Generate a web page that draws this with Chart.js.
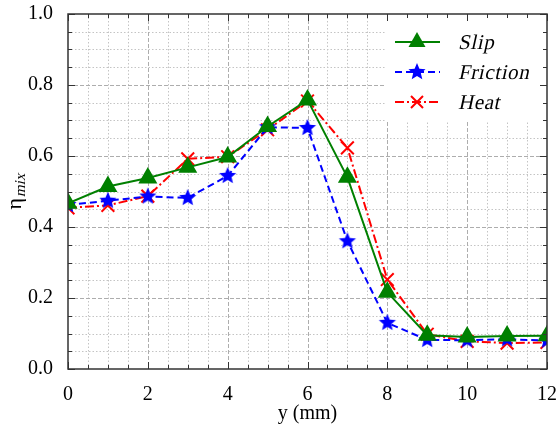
<!DOCTYPE html>
<html lang="en">
<head>
  <meta charset="UTF-8">
  <title>eta mix vs y</title>
  <script src="https://cdn.jsdelivr.net/npm/chart.js"></script>
  <style>
    body { margin: 0; background: #fff; font-family: 'Liberation Serif', 'Times New Roman', serif; }
    #wrap { width: 558px; height: 426px; }
    .pre { position: absolute; left: -999px; top: 0; font-family: 'Liberation Serif'; }
  </style>
</head>
<body>
  <span class="pre">0.8 <i>Slip</i></span>
  <div id="wrap"><canvas id="grafico" width="558" height="426"></canvas></div>

  <script>
    // data
    const posicoes = [0, 1, 2, 3, 4, 5, 6, 7, 8, 9, 10, 11, 12];
    const slip     = [0.467, 0.514, 0.538, 0.568, 0.597, 0.683, 0.758, 0.540, 0.216, 0.095, 0.090, 0.093, 0.094];
    const friction = [0.462, 0.474, 0.486, 0.482, 0.544, 0.681, 0.679, 0.360, 0.130, 0.082, 0.081, 0.084, 0.080];
    const heat     = [0.454, 0.461, 0.487, 0.592, 0.598, 0.674, 0.755, 0.623, 0.252, 0.098, 0.078, 0.073, 0.075];
    const xTicks = [0, 2, 4, 6, 8, 10, 12];
    const yTicks = [0, 0.2, 0.4, 0.6, 0.8, 1.0];
    const nomes = ['Slip', 'Friction', 'Heat'];

    const SERIF = "'Liberation Serif', 'Times New Roman', Times, serif";

    // filled star marker
    function fazerEstrela(r, cor) {
      const c = document.createElement('canvas');
      c.width = c.height = Math.ceil(r * 2 + 2);
      const g = c.getContext('2d');
      const cx = c.width / 2, cy = c.height / 2;
      g.beginPath();
      for (let i = 0; i < 10; i++) {
        const rr = i % 2 === 0 ? r : r * 0.45;
        const a = -Math.PI / 2 + i * Math.PI / 5;
        g.lineTo(cx + rr * Math.cos(a), cy + rr * Math.sin(a));
      }
      g.closePath();
      g.fillStyle = cor;
      g.fill();
      return c;
    }
    const estrela = fazerEstrela(9, '#0000ff');

    const pares = arr => posicoes.map((x, i) => ({ x: x, y: arr[i] }));

    // slanted text, one char at a time (regular face + skew stands in for italic)
    function textoInclinado(ctx, txt, x, y, espaco) {
      ctx.save();
      ctx.translate(x, y);
      ctx.transform(1, 0, -0.22, 1, 0, 0);
      let px = 0;
      for (const ch of txt) {
        ctx.fillText(ch, px, 0);
        px += ctx.measureText(ch).width + espaco;
      }
      ctx.restore();
    }

    // grid, ticks, frame, legend and y title
    const extras = {
      id: 'extras',
      beforeDatasetsDraw(chart) {
        const { ctx, chartArea: a, scales: { x, y } } = chart;
        ctx.save();
        ctx.lineWidth = 1;
        // minor dotted
        ctx.strokeStyle = '#c4c4c4';
        ctx.setLineDash([1.5, 2]);
        for (let v = 0.5; v < 12; v += 0.5) {
          if (v % 2 === 0) continue;
          const px = Math.round(x.getPixelForValue(v)) + 0.5;
          ctx.beginPath(); ctx.moveTo(px, a.top); ctx.lineTo(px, a.bottom); ctx.stroke();
        }
        for (let k = 1; k < 20; k++) {
          if (k % 4 === 0) continue;
          const py = Math.round(y.getPixelForValue(k * 0.05)) + 0.5;
          ctx.beginPath(); ctx.moveTo(a.left, py); ctx.lineTo(a.right, py); ctx.stroke();
        }
        // major dashed
        ctx.strokeStyle = '#adadad';
        ctx.setLineDash([4, 2]);
        xTicks.slice(1, -1).forEach(v => {
          const px = Math.round(x.getPixelForValue(v)) + 0.5;
          ctx.beginPath(); ctx.moveTo(px, a.top); ctx.lineTo(px, a.bottom); ctx.stroke();
        });
        yTicks.slice(1, -1).forEach(v => {
          const py = Math.round(y.getPixelForValue(v)) + 0.5;
          ctx.beginPath(); ctx.moveTo(a.left, py); ctx.lineTo(a.right, py); ctx.stroke();
        });
        ctx.setLineDash([]);
        // legend background hides grid
        ctx.fillStyle = '#fff';
        ctx.fillRect(386, a.top + 1, a.right - 387, 120 - a.top);
        ctx.restore();
      },
      afterDatasetsDraw(chart) {
        const { ctx, chartArea: a, scales: { x, y } } = chart;
        ctx.save();
        // legend
        const ds = chart.data.datasets;
        [42, 72, 102].forEach((ly, i) => {
          const d = ds[i];
          ctx.strokeStyle = d.borderColor;
          ctx.lineWidth = 2;
          ctx.setLineDash(d.borderDash || []);
          ctx.beginPath(); ctx.moveTo(395, ly); ctx.lineTo(440, ly); ctx.stroke();
          ctx.setLineDash([]);
          if (i === 0) {
            ctx.fillStyle = d.borderColor;
            ctx.beginPath();
            ctx.moveTo(417, ly - 10); ctx.lineTo(417 + 8.5, ly + 5); ctx.lineTo(417 - 8.5, ly + 5);
            ctx.closePath(); ctx.fill();
          } else if (i === 1) {
            ctx.drawImage(estrela, 417 - estrela.width / 2, ly - estrela.height / 2);
          } else {
            ctx.beginPath();
            ctx.moveTo(411, ly - 6); ctx.lineTo(423, ly + 6);
            ctx.moveTo(423, ly - 6); ctx.lineTo(411, ly + 6);
            ctx.stroke();
          }
          ctx.fillStyle = '#000';
          ctx.font = '21px ' + SERIF;
          ctx.textBaseline = 'alphabetic';
          ctx.textAlign = 'left';
          textoInclinado(ctx, nomes[i], 458, ly + 7, 0.6);
        });

        // inward ticks
        ctx.strokeStyle = '#333';
        ctx.lineWidth = 1;
        for (let v = 0; v <= 12; v += 0.5) {
          const px = Math.round(x.getPixelForValue(v)) + 0.5;
          const len = v % 2 === 0 ? 7 : 4;
          ctx.beginPath();
          ctx.moveTo(px, a.bottom); ctx.lineTo(px, a.bottom - len);
          ctx.moveTo(px, a.top); ctx.lineTo(px, a.top + len);
          ctx.stroke();
        }
        for (let k = 0; k <= 20; k++) {
          const py = Math.round(y.getPixelForValue(k * 0.05)) + 0.5;
          const len = k % 4 === 0 ? 7 : 4;
          ctx.beginPath();
          ctx.moveTo(a.left, py); ctx.lineTo(a.left + len, py);
          ctx.moveTo(a.right, py); ctx.lineTo(a.right - len, py);
          ctx.stroke();
        }
        // frame
        ctx.lineWidth = 1.5;
        ctx.strokeRect(a.left, a.top, a.right - a.left, a.bottom - a.top);

        // y title: eta with subscript mix
        ctx.translate(21, 192);
        ctx.rotate(-Math.PI / 2);
        ctx.fillStyle = '#000';
        ctx.textBaseline = 'alphabetic';
        ctx.textAlign = 'left';
        ctx.font = '22px ' + SERIF;
        const wEta = ctx.measureText('η').width;
        ctx.font = '15px ' + SERIF;
        const wMix = ctx.measureText('mix').width;
        const x0 = -(wEta + wMix) / 2;
        ctx.font = '22px ' + SERIF;
        ctx.fillText('η', x0, 0);
        ctx.font = '15px ' + SERIF;
        textoInclinado(ctx, 'mix', x0 + wEta + 1, 4, 0);
        ctx.restore();
      }
    };

    function desenhar() {
      const ctx = document.getElementById('grafico').getContext('2d');
      new Chart(ctx, {
        type: 'line',
        data: {
          datasets: [
            {
              label: 'Slip',
              data: pares(slip),
              borderColor: '#008000',
              backgroundColor: '#008000',
              borderWidth: 2,
              pointStyle: 'triangle',
              pointRadius: 9,
              tension: 0
            },
            {
              label: 'Friction',
              data: pares(friction),
              borderColor: '#0000ff',
              backgroundColor: '#0000ff',
              borderWidth: 2,
              borderDash: [7, 4],
              pointStyle: estrela,
              tension: 0
            },
            {
              label: 'Heat',
              data: pares(heat),
              borderColor: '#ff0000',
              backgroundColor: '#ff0000',
              borderWidth: 2,
              borderDash: [9, 3, 2, 3],
              pointStyle: 'crossRot',
              pointRadius: 9,
              pointBorderWidth: 2,
              tension: 0
            }
          ]
        },
        options: {
          responsive: false,
          animation: false,
          events: [],
          layout: { padding: { top: 14, right: 11, left: 0, bottom: 0 } },
          plugins: { legend: { display: false }, tooltip: { enabled: false } },
          scales: {
            x: {
              type: 'linear',
              min: 0, max: 12,
              grid: { display: false },
              border: { display: false },
              afterBuildTicks: s => { s.ticks = xTicks.map(v => ({ value: v })); },
              afterFit: s => { s.height = 57; s.paddingLeft = 0; s.paddingRight = 0; },
              ticks: {
                color: '#000', padding: 6, maxRotation: 0,
                font: { family: SERIF, size: 20 }
              },
              title: {
                display: true, text: 'y (mm)', color: '#000',
                font: { family: SERIF, size: 20 }, padding: { top: 0, bottom: 0 }
              }
            },
            y: {
              min: 0, max: 1,
              grid: { display: false },
              border: { display: false },
              afterBuildTicks: s => { s.ticks = yTicks.map(v => ({ value: v })); },
              afterFit: s => { s.width = 68; s.paddingTop = 0; s.paddingBottom = 0; },
              ticks: {
                color: '#000', padding: 7,
                font: { family: SERIF, size: 20 },
                callback: v => v.toFixed(1)
              }
            }
          }
        },
        plugins: [extras]
      });
    }

    if (document.fonts && document.fonts.load) {
      document.fonts.load("20px 'Liberation Serif'").then(desenhar, desenhar);
    } else {
      desenhar();
    }
  </script>
</body>
</html>
